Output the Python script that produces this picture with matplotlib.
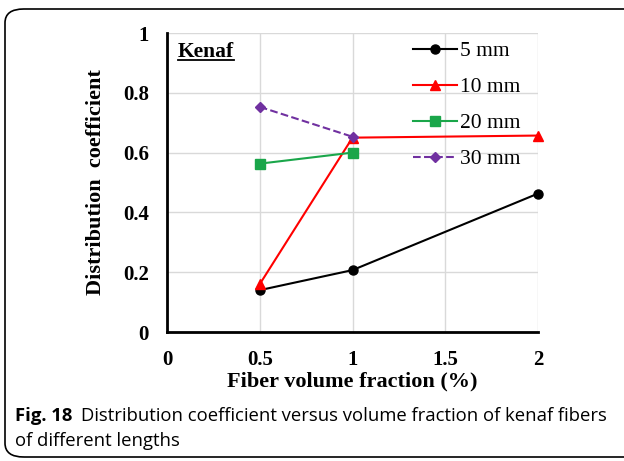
import matplotlib
matplotlib.use("Agg")
import matplotlib.pyplot as plt
from matplotlib.patches import FancyBboxPatch
from matplotlib.lines import Line2D

# data
vf = [0.5, 1, 2]
d5 = [0.14, 0.207, 0.463]
d10 = [0.16, 0.65, 0.657]
vf20 = [0.5, 1]
d20 = [0.563, 0.60]
vf30 = [0.5, 1]
d30 = [0.753, 0.653]
xticks = [0, 0.5, 1, 1.5, 2]
yticks = [0, 0.2, 0.4, 0.6, 0.8, 1]

serif = 'Liberation Serif'
W, H = 624, 461

fig = plt.figure(figsize=(6.24, 4.61), dpi=100)
ax = fig.add_axes([167 / W, 1 - 332 / H, (538 - 167) / W, (332 - 33) / H])

ax.plot(vf, d5, '-o', color='black', lw=1.5, ms=6.5, label='5 mm', clip_on=False, zorder=5)
ax.plot(vf, d10, '-^', color='#ff0000', lw=1.5, ms=7, label='10 mm', clip_on=False, zorder=5)
ax.plot(vf20, d20, '-s', color='#1aa64a', lw=1.5, ms=6.5, label='20 mm', clip_on=False, zorder=5)
ax.plot(vf30, d30, '--D', color='#7030a0', lw=1.5, ms=5.5, label='30 mm', clip_on=False, zorder=5)

ax.set_xlim(0, 2)
ax.set_ylim(0, 1)
ax.set_xticks(xticks)
ax.set_xticklabels(['0', '0.5', '1', '1.5', '2'])
ax.set_yticks(yticks)
ax.set_yticklabels(['0', '0.2', '0.4', '0.6', '0.8', '1'])
ax.grid(True, color='#d9d9d9', lw=1)
ax.set_axisbelow(True)
ax.tick_params(length=0, labelsize=15, pad=13)
for lab in ax.get_xticklabels() + ax.get_yticklabels():
    lab.set_fontfamily(serif)
    lab.set_fontweight('bold')
ax.spines['top'].set_visible(False)
ax.spines['right'].set_visible(False)
ax.spines['left'].set_linewidth(2)
ax.spines['bottom'].set_linewidth(2)

ax.set_xlabel('Fiber volume fraction (%)', fontfamily=serif, fontweight='bold', fontsize=16, labelpad=1)
ax.set_ylabel('Distribution  coefficient', fontfamily=serif, fontweight='bold', fontsize=16, labelpad=12)

kt = ax.text(0.03, 0.935, 'Kenaf', transform=ax.transAxes, fontsize=15.5, va='center',
             fontfamily=serif, fontweight='bold')

leg = ax.legend(loc='upper left', bbox_to_anchor=(413 / W, 1 - 41 / H), bbox_transform=fig.transFigure,
                frameon=False, prop={'family': serif, 'size': 15.5}, labelspacing=0.74,
                handlelength=2.05, handletextpad=0.15, borderpad=0, borderaxespad=0)

# underline for the Kenaf label
fig.canvas.draw()
bb = kt.get_window_extent().transformed(fig.transFigure.inverted())
fig.add_artist(Line2D([bb.x0, bb.x1], [bb.y0 + 0.005, bb.y0 + 0.005], color='black', lw=1.3,
                      transform=fig.transFigure))

# rounded border around the figure
box = FancyBboxPatch((5 / W, 4 / H), 1.3, (457 - 9) / H, boxstyle='round,pad=0,rounding_size=0.03',
                     transform=fig.transFigure, fill=False, ec='black', lw=1.2)
fig.patches.append(box)

# caption
t1 = fig.text(15 / W, 1 - 416 / H, 'Fig. 18', fontfamily='Open Sans', fontweight='bold', fontsize=13.3,
              va='center')
fig.canvas.draw()
b1 = t1.get_window_extent().transformed(fig.transFigure.inverted())
fig.text(b1.x1 + 9 / W, 1 - 416 / H, 'Distribution coefficient versus volume fraction of kenaf fibers',
         fontfamily='Open Sans', fontsize=13.3, va='center')
fig.text(15 / W, 1 - 441 / H, 'of different lengths', fontfamily='Open Sans', fontsize=13.3, va='center')

fig.savefig('out.png', dpi=100)
